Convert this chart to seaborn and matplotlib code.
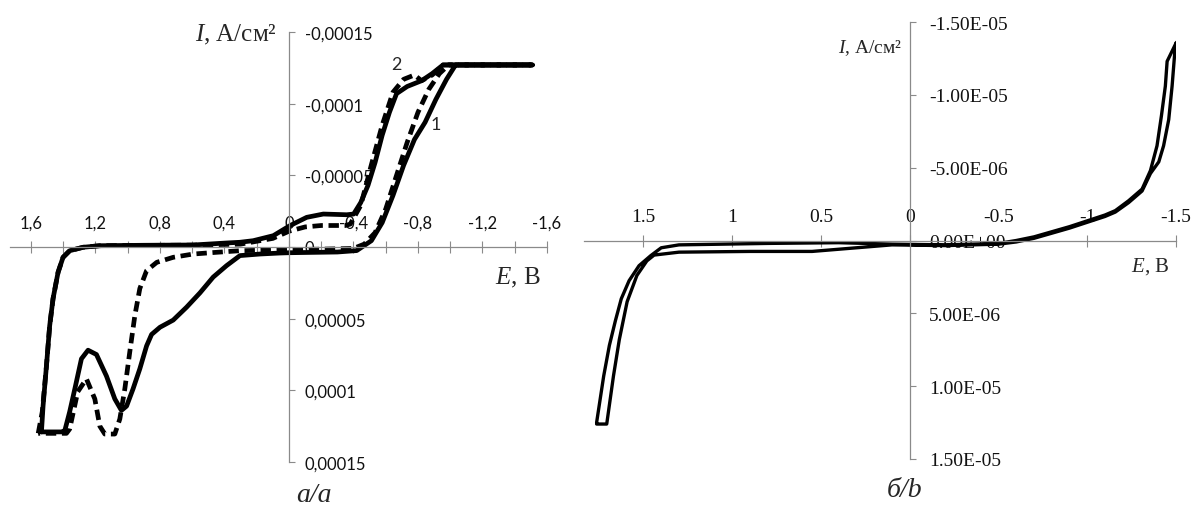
import matplotlib
matplotlib.use('Agg')
import matplotlib.pyplot as plt
import seaborn as sns
from matplotlib.ticker import FixedLocator

# ---- panel a: curve 1 (solid), from the anodic corner to -1.5 V and back
c1_fwd_E = [1.535, 1.525, 1.504, 1.484, 1.463, 1.432, 1.401, 1.36, 1.277, 1.173, 0.9, 0.594,
            0.387, 0.304, 0.222, 0.097, -0.006, -0.11, -0.213, -0.358, -0.401, -0.445, -0.49,
            -0.534, -0.578, -0.623, -0.667, -0.733, -0.822, -0.888, -0.955, -1.51]
c1_fwd_I = [1.29e-4, 1.11e-4, 8.3e-5, 5.5e-5, 3.6e-5, 1.77e-5, 7.2e-6, 2.6e-6, 2e-7, -9e-7, -1.2e-6, -1.4e-6,
            -2.8e-6, -3.3e-6, -4.4e-6, -7.9e-6, -1.49e-5, -2.07e-5, -2.3e-5, -2.25e-5, -2.3e-5, -3.1e-5, -4.3e-5,
            -5.9e-5, -7.8e-5, -9.4e-5, -1.07e-4, -1.12e-4, -1.16e-4, -1.21e-4, -1.27e-4, -1.27e-4]
c1_rev_E = [-1.033, -0.977, -0.911, -0.844, -0.778, -0.711, -0.645, -0.578, -0.511, -0.42, -0.3, 0.0,
            0.056, 0.18, 0.304, 0.387, 0.47, 0.552, 0.635, 0.718, 0.80, 0.852, 0.883, 0.925, 0.967,
            1.007, 1.039, 1.08, 1.132, 1.194, 1.246, 1.287, 1.328, 1.36, 1.39, 1.41, 1.535]
c1_rev_I = [-1.27e-4, -1.17e-4, -1.03e-4, -8.7e-5, -7.5e-5, -5.7e-5, -3.6e-5, -1.7e-5, -4.4e-6, 2.5e-6, 3.5e-6, 4e-6,
            4.2e-6, 4.9e-6, 6e-6, 1.3e-5, 2.1e-5, 3.2e-5, 4.2e-5, 5.1e-5, 5.6e-5, 6.1e-5, 6.9e-5, 8.5e-5, 9.9e-5,
            1.11e-4, 1.14e-4, 1.06e-4, 9.0e-5, 7.5e-5, 7.2e-5, 7.8e-5, 9.9e-5, 1.15e-4, 1.28e-4, 1.29e-4, 1.29e-4]

# ---- panel a: curve 2 (dashed)
c2_fwd_E = [1.555, 1.53, 1.504, 1.484, 1.463, 1.432, 1.401, 1.36, 1.277, 1.173, 0.6, 0.3, 0.1, 0.0,
            -0.1, -0.2, -0.35, -0.38, -0.445, -0.51, -0.578, -0.645, -0.711, -0.778, -0.822,
            -0.888, -0.955, -1.5]
c2_fwd_I = [1.3e-4, 1.15e-4, 8.3e-5, 5.5e-5, 3.6e-5, 1.77e-5, 7.2e-6, 2.6e-6, 2e-7, -9e-7, -1.3e-6, -2e-6, -6e-6, -1.1e-5,
            -1.4e-5, -1.5e-5, -1.5e-5, -1.6e-5, -2.9e-5, -5.7e-5, -8.5e-5, -1.08e-4, -1.17e-4, -1.2e-4, -1.16e-4,
            -1.2e-4, -1.27e-4, -1.27e-4]
c2_rev_E = [-0.99, -0.933, -0.867, -0.8, -0.733, -0.667, -0.6, -0.534, -0.467, -0.40, -0.2, 0.0,
            0.304, 0.449, 0.594, 0.718, 0.82, 0.883, 0.925, 0.956, 0.987, 1.018, 1.049, 1.08, 1.142,
            1.173, 1.204, 1.256, 1.31, 1.36, 1.38, 1.555]
c2_rev_I = [-1.27e-4, -1.21e-4, -1.1e-4, -9.4e-5, -7.3e-5, -5.0e-5, -2.65e-5, -1.0e-5, -2e-6, 1.0e-6, 1.5e-6, 1.8e-6,
            2.6e-6, 3.7e-6, 4.9e-6, 7.2e-6, 1.07e-5, 1.65e-5, 2.9e-5, 4.8e-5, 7.3e-5, 9.9e-5, 1.2e-4, 1.305e-4, 1.305e-4,
            1.25e-4, 1.06e-4, 9.2e-5, 1.01e-4, 1.27e-4, 1.3e-4, 1.3e-4]

# ---- panel b: single loop
b_fwd_E = [1.764, 1.724, 1.692, 1.658, 1.625, 1.581, 1.525, 1.459, 1.40, 1.3, 0.8, 0.4, 0.1,
           -0.2, -0.5, -0.6, -0.7, -0.8, -0.9, -1.0, -1.1, -1.158, -1.233, -1.309, -1.356, -1.393,
           -1.418, -1.44, -1.45, -1.502]
b_fwd_I = [1.25e-5, 9.3e-6, 7.2e-6, 5.5e-6, 4.0e-6, 2.76e-6, 1.73e-6, 1.04e-6, 5e-7, 3e-7, 2e-7, 1.5e-7, 2.5e-7,
           3e-7, 2e-7, 0, -2.5e-7, -6e-7, -9.5e-7, -1.35e-6, -1.75e-6, -2.05e-6, -2.73e-6, -3.53e-6, -4.8e-6, -6.5e-6,
           -8.57e-6, -1.06e-5, -1.23e-5, -1.36e-5]
b_rev_E = [-1.493, -1.478, -1.459, -1.43, -1.403, -1.356, -1.309, -1.233, -1.158, -1.1, -1.0, -0.9,
           -0.8, -0.7, -0.6, -0.5, -0.2, 0.1, 0.3, 0.55, 0.9, 1.3, 1.44, 1.481, 1.537, 1.592, 1.636,
           1.669, 1.707, 1.764]
b_rev_I = [-1.29e-5, -1.06e-5, -8.3e-6, -6.5e-6, -5.4e-6, -4.6e-6, -3.4e-6, -2.6e-6, -1.95e-6, -1.65e-6, -1.25e-6, -8.5e-7,
           -5e-7, -1.5e-7, 1e-7, 2.5e-7, 3.5e-7, 3e-7, 5e-7, 7.5e-7, 7.5e-7, 8e-7, 1.0e-6, 1.4e-6, 2.4e-6, 4.2e-6, 6.8e-6,
           9.3e-6, 1.26e-5, 1.26e-5]

# ---- ticks
a_xticks = [1.6, 1.2, 0.8, 0.4, 0, -0.4, -0.8, -1.2, -1.6]
a_xlabels = ['1,6', '1,2', '0,8', '0,4', '0', '-0,4', '-0,8', '-1,2', '-1,6']
a_xminor = [1.4, 1.0, 0.6, 0.2, -0.2, -0.6, -1.0, -1.4]
a_yticks = [-0.00015, -0.0001, -0.00005, 0, 0.00005, 0.0001, 0.00015]
a_ylabels = ['-0,00015', '-0,0001', '-0,00005', '0', '0,00005', '0,0001', '0,00015']
b_xticks = [1.5, 1, 0.5, 0, -0.5, -1, -1.5]
b_xlabels = ['1.5', '1', '0.5', '0', '-0.5', '-1', '-1.5']
b_yticks = [-1.5e-5, -1e-5, -5e-6, 0, 5e-6, 1e-5, 1.5e-5]
b_ylabels = ['-1.50E-05', '-1.00E-05', '-5.00E-06', '0.00E+00', '5.00E-06', '1.00E-05', '1.50E-05']

sns.set_theme(style='white')
plt.rcParams['font.family'] = ['Liberation Serif', 'DejaVu Sans']
plt.rcParams['mathtext.fontset'] = 'custom'
plt.rcParams['mathtext.it'] = 'Liberation Serif:italic'
plt.rcParams['mathtext.rm'] = 'Liberation Serif'

grey = '#8a8a8a'
W, H = 1195, 506
fig = plt.figure(figsize=(W / 100, H / 100), dpi=100)
axA = fig.add_axes([10 / W, (H - 463) / H, 537 / W, 430 / H])
axB = fig.add_axes([584 / W, (H - 460) / H, 592 / W, 437 / H])


def setup(ax, xt, xl, yt, yl, font, size, xpad, ypad):
    for s in ['left', 'bottom']:
        ax.spines[s].set_visible(False)
    for s in ['top', 'right']:
        ax.spines[s].set_position(('data', 0))
        ax.spines[s].set_color(grey)
        ax.spines[s].set_linewidth(0.9)
    ax.xaxis.set_ticks_position('top')
    ax.yaxis.set_ticks_position('right')
    ax.set_xticks(xt, xl)
    ax.set_yticks(yt, yl)
    ax.tick_params(axis='x', which='both', direction='inout', length=9, width=0.8,
                   color=grey, pad=xpad, labelsize=size, labelcolor='#111111')
    ax.tick_params(axis='y', direction='out', length=4.3, width=0.8,
                   color=grey, pad=ypad, labelsize=size, labelcolor='#111111')
    for lab in ax.get_xticklabels() + ax.get_yticklabels():
        lab.set_fontfamily(font)
    ax.set_axisbelow(True)
    ax.patch.set_alpha(0)
    ax.grid(False)
    ax.set_xlabel('')
    ax.set_ylabel('')


# panel a: dashed curve first so the solid one lies on top of it
sns.lineplot(x=c2_fwd_E + c2_rev_E, y=c2_fwd_I + c2_rev_I, sort=False, estimator=None,
             ax=axA, color='black', linewidth=3.4)
axA.lines[-1].set_dashes([2.2, 1.2])
sns.lineplot(x=c1_fwd_E + c1_rev_E, y=c1_fwd_I + c1_rev_I, sort=False, estimator=None,
             ax=axA, color='black', linewidth=3.4)
axA.set_xlim(1.73, -1.6)
axA.set_ylim(0.00015, -0.00015)
setup(axA, a_xticks, a_xlabels, a_yticks, a_ylabels, 'Lato', 12, 7, 7)
axA.xaxis.set_minor_locator(FixedLocator(a_xminor))
axA.text(-0.912, -8.6e-5, '1', family='Lato', fontsize=13, ha='center', va='center')
axA.text(-0.664, -1.28e-4, '2', family='Lato', fontsize=13, ha='center', va='center')

# panel b
sns.lineplot(x=b_fwd_E + b_rev_E, y=b_fwd_I + b_rev_I, sort=False, estimator=None,
             ax=axB, color='black', linewidth=2.4)
axB.set_xlim(1.835, -1.5)
axB.set_ylim(1.5e-5, -1.5e-5)
setup(axB, b_xticks, b_xlabels, b_yticks, b_ylabels, 'Liberation Serif', 14, 7, 9.5)

# axis titles and captions
fig.text(277 / W, (H - 41) / H, r'$\mathit{I}$, А/см²', fontsize=18, ha='right', va='baseline')
fig.text(541 / W, (H - 284) / H, r'$\mathit{E}$, В', fontsize=18, ha='right', va='baseline')
fig.text(902 / W, (H - 53) / H, r'$\mathit{I}$, А/см²', fontsize=14, ha='right', va='baseline')
fig.text(1169 / W, (H - 272) / H, r'$\mathit{E}$, В', fontsize=15, ha='right', va='baseline')
fig.text(314 / W, (H - 502) / H, 'а/a', fontsize=20, style='italic', ha='center', va='baseline')
fig.text(905 / W, (H - 497) / H, 'б/b', fontsize=20, style='italic', ha='center', va='baseline')

fig.savefig('out.png', dpi=100, facecolor='white')
